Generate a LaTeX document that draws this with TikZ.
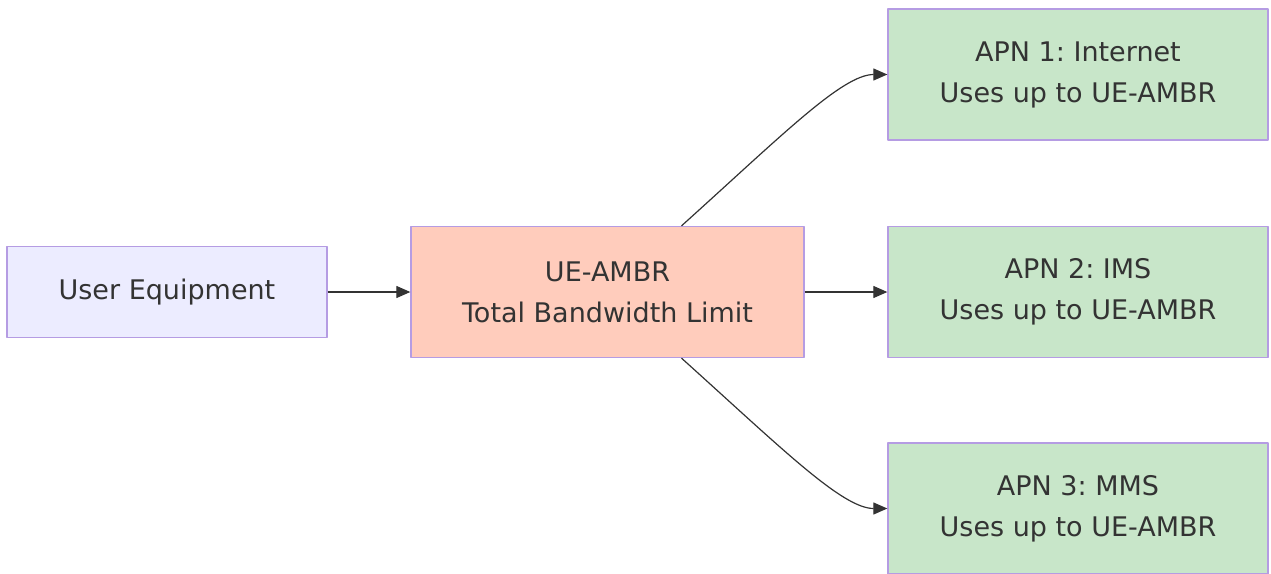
\documentclass[tikz,border=0pt]{standalone}
\usepackage{fontspec}
\setmainfont{DejaVu Sans}
\usetikzlibrary{arrows.meta,positioning}
\definecolor{boxline}{HTML}{B59CE3}
\definecolor{uefill}{HTML}{ECECFF}
\definecolor{ambrfill}{HTML}{FFCCBC}
\definecolor{apnfill}{HTML}{C8E6C9}
\definecolor{txt}{HTML}{333333}
\frenchspacing
\begin{document}
\begin{tikzpicture}[x=1pt,y=-1pt,line join=round,>={Triangle[length=14pt,width=12pt]}]
	\tikzset{box/.style={draw=boxline,line width=1.3pt,text=txt,align=center,
			font=\fontsize{27}{41}\selectfont,inner sep=0pt},
		flow/.style={->,draw=txt,line width=1.2pt}}
	\useasboundingbox (0,0) rectangle (1271,573);
	\clip (0,0) rectangle (1271,573);
	\node[box,fill=uefill,minimum width=320pt,minimum height=91pt] (ue) at (167,292) {User Equipment};
	\node[box,fill=ambrfill,minimum width=393pt,minimum height=131pt] (ambr) at (607.5,292) {UE-AMBR\\Total Bandwidth Limit};
	\node[box,fill=apnfill,minimum width=380pt,minimum height=131pt] (apn1) at (1078,74.5) {APN 1: Internet\\Uses up to UE-AMBR};
	\node[box,fill=apnfill,minimum width=380pt,minimum height=131pt] (apn2) at (1078,292) {APN 2: IMS\\Uses up to UE-AMBR};
	\node[box,fill=apnfill,minimum width=380pt,minimum height=131pt] (apn3) at (1078,508.5) {APN 3: MMS\\Uses up to UE-AMBR};
	\draw[flow] (ue.east) -- (ambr.west);
	\draw[flow] (ambr.east) -- (apn2.west);
	\draw[flow] ([xshift=74pt]ambr.north) .. controls +(100,-90) and +(-45,0) .. (apn1.west);
	\draw[flow] ([xshift=74pt]ambr.south) .. controls +(100,90) and +(-45,0) .. (apn3.west);
\end{tikzpicture}
\end{document}
